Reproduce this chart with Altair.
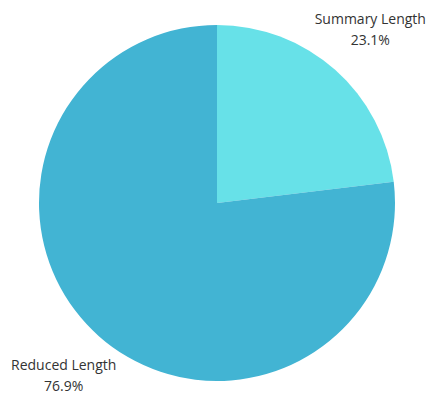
import altair as alt
import pandas as pd

categories = ["Summary Length", "Reduced Length"]
values = [23.1, 76.9]
labels = ["23.1%", "76.9%"]
colors = ["#67E1E8", "#42B4D3"]

df = pd.DataFrame({"category": categories, "value": values, "pct": labels, "order": [0, 1]})

base = alt.Chart(df).encode(
    theta=alt.Theta("value:Q", stack=True),
    order=alt.Order("order:Q"),
    x=alt.value(217),
    y=alt.value(203),
)

arc = base.mark_arc(outerRadius=178).encode(
    color=alt.Color("category:N", scale=alt.Scale(domain=categories, range=colors), legend=None)
)

t1 = base.mark_text(radius=231, dy=-10, font="Open Sans", fontSize=14, color="#333333").encode(
    text="category:N"
)
t2 = base.mark_text(radius=231, dy=11, font="Open Sans", fontSize=14, color="#333333").encode(
    text="pct:N"
)

chart = (arc + t1 + t2).properties(
    width=430, height=394, autosize=alt.AutoSizeParams(type="none"), padding=0
).configure_view(stroke=None)

chart.save("out.html", embed_options={"renderer": "svg", "actions": False})
